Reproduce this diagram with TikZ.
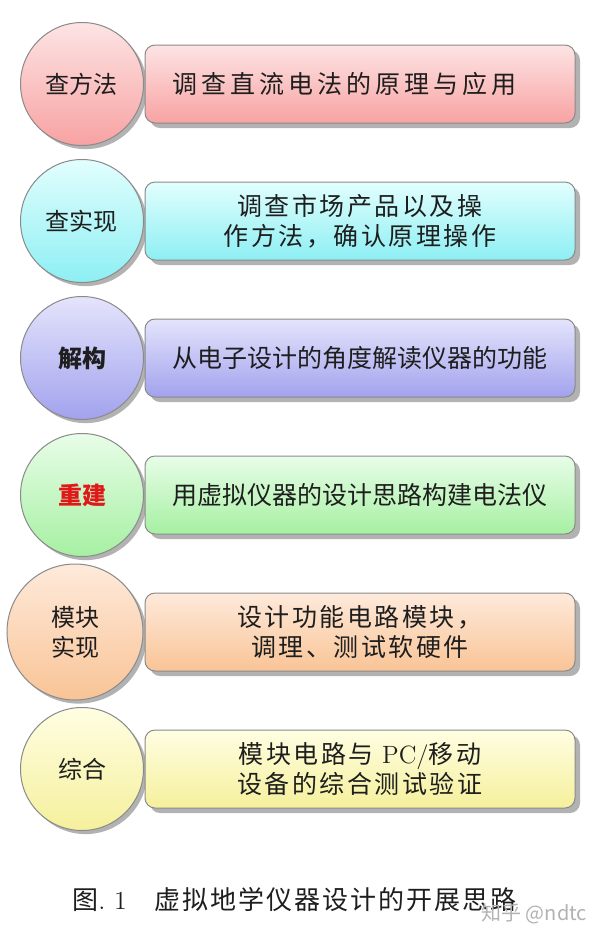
\documentclass[tikz,border=0pt]{standalone}
\usepackage{fontspec}
\newfontfamily\cjk{Noto Sans CJK SC}
\usetikzlibrary{positioning,shadows}

\definecolor{redT}{HTML}{FDE4E4}
\definecolor{redB}{HTML}{F8A2A2}
\definecolor{cyanT}{HTML}{E2FEFE}
\definecolor{cyanB}{HTML}{8DEFF3}
\definecolor{blueT}{HTML}{E4E4FC}
\definecolor{blueB}{HTML}{A2A2EE}
\definecolor{greenT}{HTML}{E8FDE8}
\definecolor{greenB}{HTML}{A6F0A2}
\definecolor{orangeT}{HTML}{FEEADB}
\definecolor{orangeB}{HTML}{F9C496}
\definecolor{yellowT}{HTML}{FFFEE2}
\definecolor{yellowB}{HTML}{F5F09C}
\definecolor{edge}{HTML}{8A8A8A}
\definecolor{ink}{HTML}{1E1E1E}
\definecolor{redtext}{HTML}{E01818}

\newcommand{\taskfont}[1]{\cjk\fontsize{12.5}{15}\selectfont\addfontfeature{LetterSpace=#1}}

\tikzset{
	stage/.style={circle, draw=edge, line width=0.5pt, minimum size=61.5pt, inner sep=0pt,
		align=center, text=ink, font=\cjk\fontsize{12}{15}\selectfont,
		drop shadow={shadow xshift=1.8pt, shadow yshift=-1.8pt, fill=black!30, opacity=1}},
	task/.style={rectangle, rounded corners=5pt, draw=edge, line width=0.5pt,
		minimum height=39pt, text width=188pt, inner xsep=13.5pt, inner ysep=0pt,
		align=center, text=ink,
		drop shadow={shadow xshift=2.5pt, shadow yshift=-2.5pt, fill=black!30, opacity=1}},
}

\begin{document}
\begin{tikzpicture}
	\useasboundingbox (0,0) rectangle (300pt,-471.5pt);

	\node[stage, top color=redT, bottom color=redB](C1) at (41pt,-42pt){查方法};
	\node[stage, below of=C1, node distance=68.5pt, top color=cyanT, bottom color=cyanB](C2){查实现};
	\node[stage, below of=C2, node distance=68.5pt, top color=blueT, bottom color=blueB](C3){\bfseries 解构};
	\node[stage, below of=C3, node distance=68.5pt, top color=greenT, bottom color=greenB, text=redtext](C4){\bfseries 重建};
	\node[stage, below of=C4, node distance=68.5pt, xshift=-3.5pt, minimum size=68pt, top color=orangeT, bottom color=orangeB](C5){模块\\实现};
	\node[stage, below of=C5, node distance=68.5pt, xshift=3.5pt, top color=yellowT, bottom color=yellowB](C6){综合};

	\node[task, right of=C1, node distance=139pt, align=left, font=\taskfont{16}, top color=redT, bottom color=redB](T1){调查直流电法的原理与应用};
	\node[task, right of=C2, node distance=139pt, font=\taskfont{10}, top color=cyanT, bottom color=cyanB](T2){调查市场产品以及操\\作方法，确认原理操作};
	\node[task, right of=C3, node distance=139pt, font=\taskfont{0}, top color=blueT, bottom color=blueB](T3){从电子设计的角度解读仪器的功能};
	\node[task, right of=C4, node distance=139pt, font=\taskfont{0}, top color=greenT, bottom color=greenB](T4){用虚拟仪器的设计思路构建电法仪};
	\node[task, right of=C5, node distance=142.5pt, font=\taskfont{10}, top color=orangeT, bottom color=orangeB](T5){设计功能电路模块，\\调理、测试软硬件};
	\node[task, right of=C6, node distance=139pt, font=\taskfont{10}, top color=yellowT, bottom color=yellowB](T6){模块电路与 {\rmfamily PC/}移动\\设备的综合测试验证};

	% caption and watermark
	\node[anchor=west, text=ink, font=\fontsize{13}{15}\selectfont](CAP) at (32.7pt,-450pt){{\cjk 图}.\ 1\hspace{14pt}{\cjk\addfontfeature{LetterSpace=7.5}虚拟地学仪器设计的开展思路}};
	\node[anchor=east, text=black!30, font=\cjk\fontsize{10}{12}\selectfont](MARK) at (297pt,-457pt){知乎 @ndtc};
\end{tikzpicture}
\end{document}
